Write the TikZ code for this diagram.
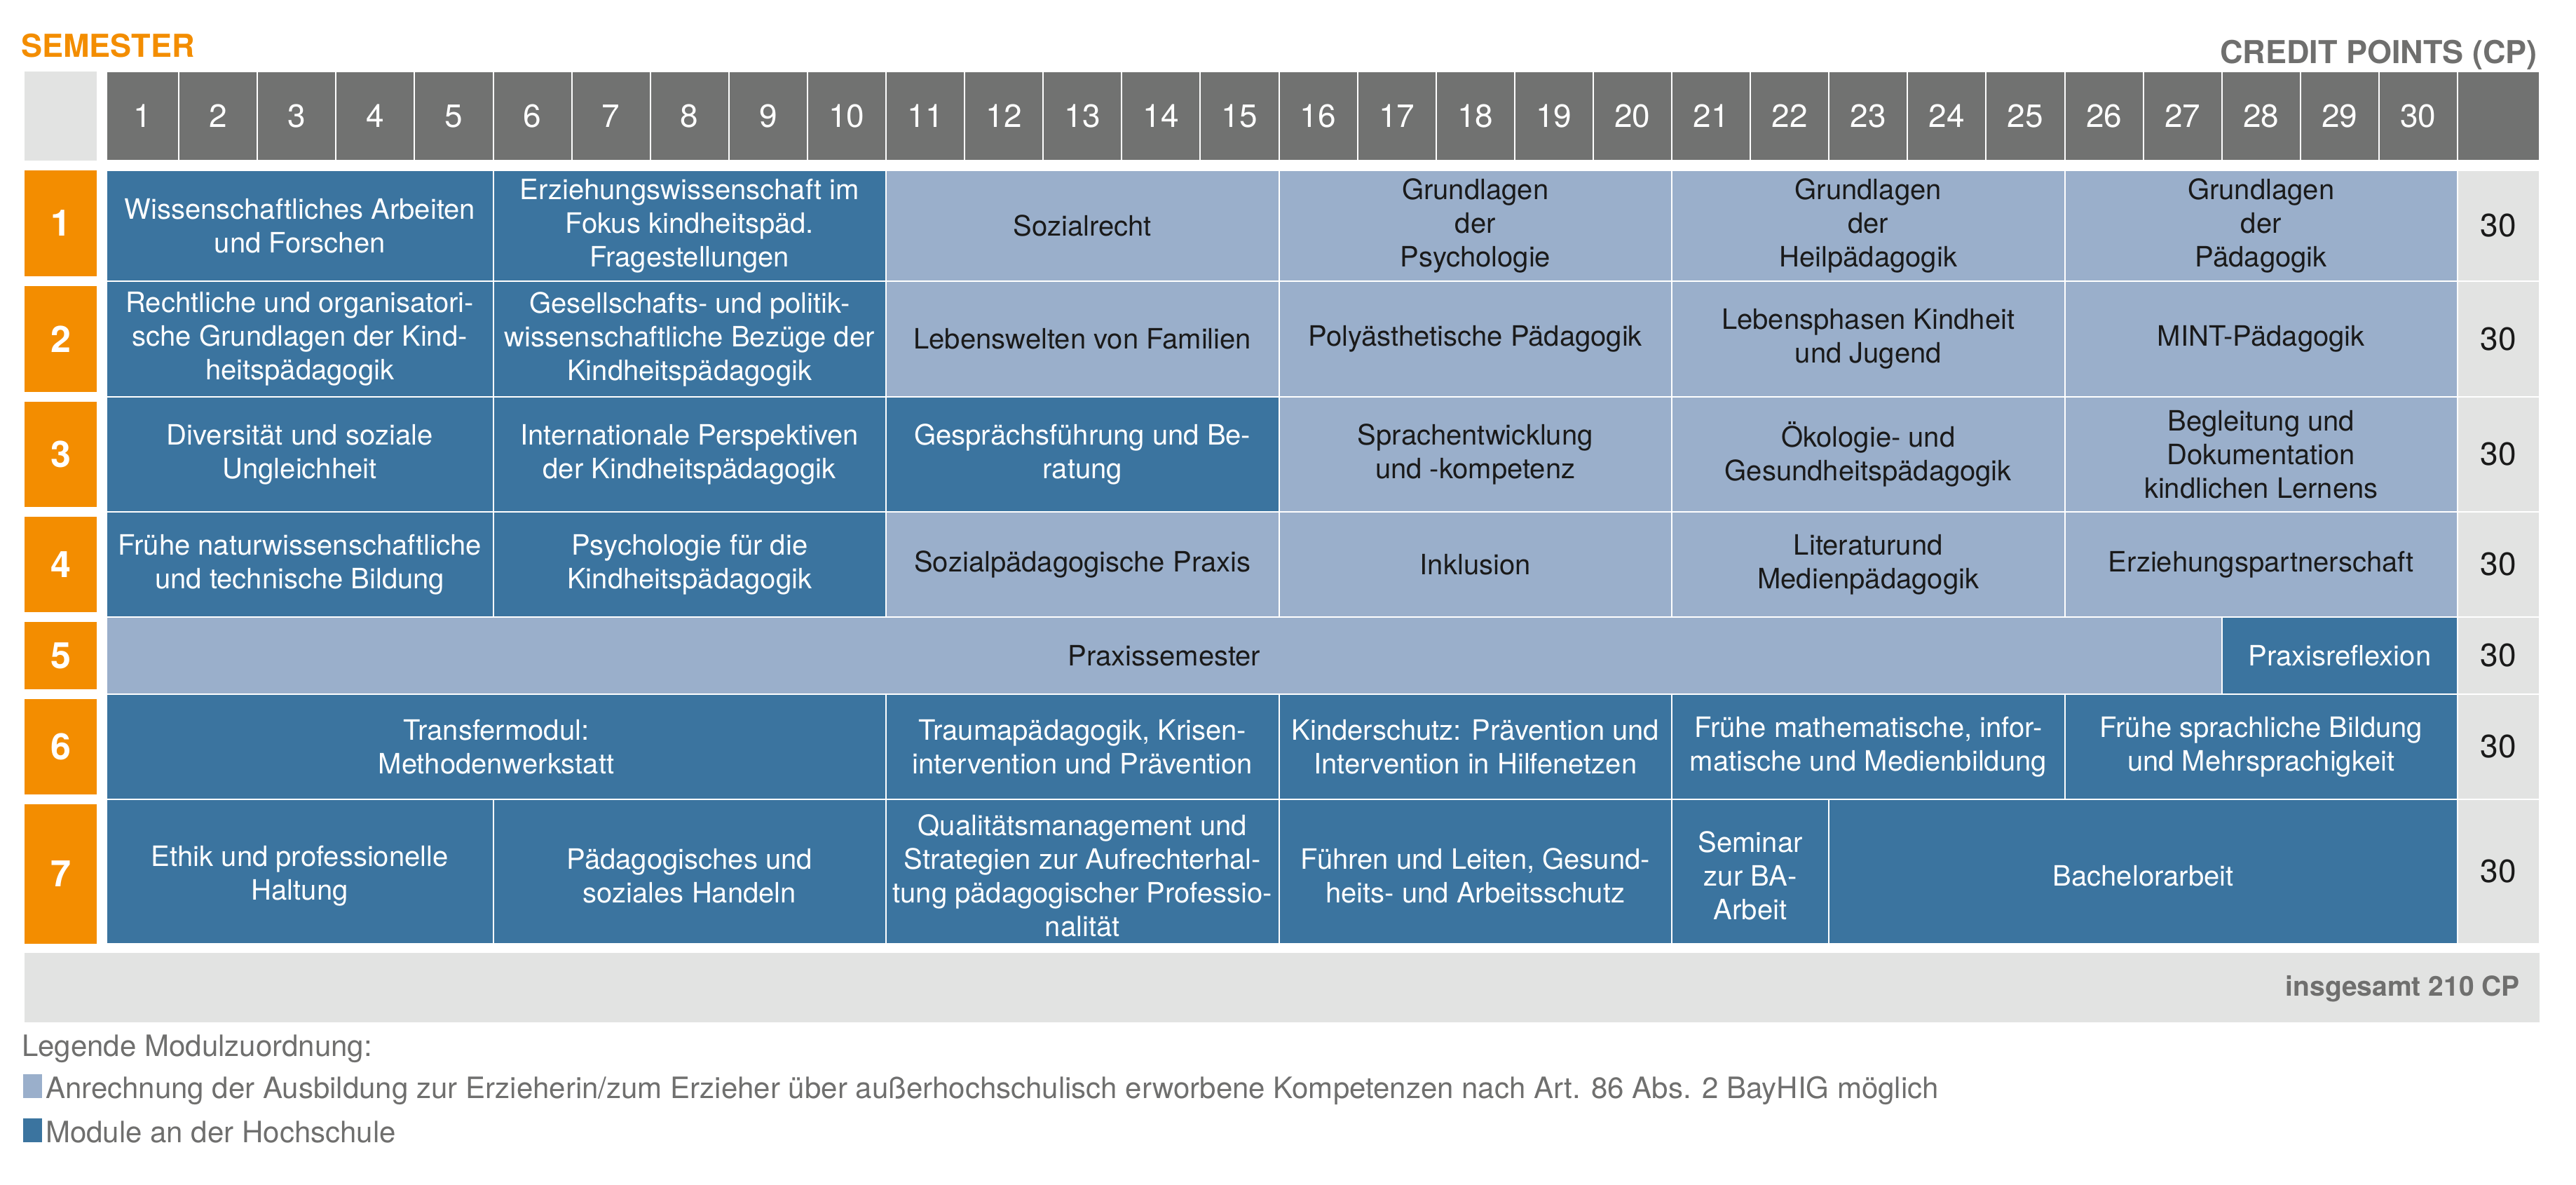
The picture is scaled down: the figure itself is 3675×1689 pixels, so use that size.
\documentclass[tikz,border=0pt]{standalone}
\usepackage{fontspec}
\setmainfont{TeX Gyre Heros}
\definecolor{cOrange}{RGB}{243,141,0}
\definecolor{cDark}{RGB}{59,116,159}
\definecolor{cLight}{RGB}{154,175,203}
\definecolor{cHead}{RGB}{113,114,113}
\definecolor{cPale}{RGB}{226,227,226}
\definecolor{cInk}{RGB}{26,26,26}
\definecolor{cGrayText}{RGB}{111,111,110}
\newcommand\cellfont{\fontsize{40}{48}\selectfont}
\newcommand\numfont{\fontsize{46}{52}\selectfont}
\newcommand\tsh{0}
\newcommand\mcell[7]{%
  \pgfmathsetmacro\xa{ifthenelse(#2==1,152,143+112.1*(#2-1))}%
  \pgfmathsetmacro\xe{143+112.1*#3}%
  \pgfmathsetmacro\cw{\xe-\xa}%
  \pgfmathsetmacro\ch{#5-#4}%
  \node[#6, minimum width=\cw pt, minimum height=\ch pt] (#1) at ({(\xa+\xe)/2},{(#4+#5)/2}) {};%
  \node[#6text] (#1t) at ({(\xa+\xe)/2},{(#4+#5)/2+\tsh}) {#7};%
}
\newcommand\semrow[6]{% name, number, orange top, orange bottom, row top, row bottom
  \pgfmathsetmacro\oh{#4-#3}%
  \pgfmathsetmacro\rh{#6-#5}%
  \node[sembox, minimum height=\oh pt] (sem#1) at (86.5,{(#3+#4)/2}) {#2};%
  \node[cpbox, minimum height=\rh pt] (cp#1) at (3564.5,{(#5+#6)/2}) {30};%
}
\begin{document}
\begin{tikzpicture}[x=1pt,y=-1pt,
  cellbase/.style={rectangle, draw=white, line width=2pt, inner sep=0pt},
  dk/.style={cellbase, fill=cDark},
  lt/.style={cellbase, fill=cLight},
  dktext/.style={inner sep=0pt, align=center, font=\cellfont, text=white},
  lttext/.style={inner sep=0pt, align=center, font=\cellfont, text=cInk},
  hdr/.style={rectangle, fill=cHead, draw=white, line width=2pt, inner sep=0pt, text=white, font=\numfont},
  sembox/.style={rectangle, fill=cOrange, inner sep=0pt, minimum width=103pt, text=white, font=\fontsize{52}{56}\selectfont\bfseries},
  cpbox/.style={rectangle, fill=cPale, draw=white, line width=2pt, inner sep=0pt, minimum width=117pt, text=cInk, font=\numfont},
  legtext/.style={inner sep=0pt, anchor=base west, text=cGrayText, font=\fontsize{42}{50}\selectfont},
  legkey/.style={rectangle, inner sep=0pt, anchor=north west, minimum width=27pt, minimum height=34pt}
]
\useasboundingbox (0,0) rectangle (3675,1689);

% titles
\node[inner sep=0pt, anchor=base west, text=cOrange, font=\fontsize{45}{50}\selectfont\bfseries] (semtitle) at (30,81) {SEMESTER};
\node[inner sep=0pt, anchor=base east, text=cGrayText, font=\fontsize{45}{50}\selectfont\bfseries] (cptitle) at (3620,90) {CREDIT POINTS (CP)};

% header row
\node[rectangle, fill=cPale, inner sep=0pt, minimum width=102.5pt, minimum height=127pt] (hcorner) at (86.25,165.5) {};
\foreach \k in {1,...,30}{
  \pgfmathsetmacro\xa{ifthenelse(\k==1,152,143+112.1*(\k-1))}
  \pgfmathsetmacro\xe{143+112.1*\k}
  \pgfmathsetmacro\cw{\xe-\xa}
  \node[hdr, minimum width=\cw pt, minimum height=127pt] (h\k) at ({(\xa+\xe)/2},165.5) {\k};
}
\node[hdr, minimum width=117pt, minimum height=127pt] (hcp) at (3564.5,165.5) {};

% row 1
\mcell{r1a}{1}{5}{243}{401}{dk}{Wissenschaftliches Arbeiten\\und Forschen}
\mcell{r1b}{6}{10}{243}{401}{dk}{Erziehungswissenschaft im\\Fokus kindheitspäd.\\Fragestellungen}
\mcell{r1c}{11}{15}{243}{401}{lt}{Sozialrecht}
\mcell{r1d}{16}{20}{243}{401}{lt}{Grundlagen\\der\\Psychologie}
\mcell{r1e}{21}{25}{243}{401}{lt}{Grundlagen\\der\\Heilpädagogik}
\mcell{r1f}{26}{30}{243}{401}{lt}{Grundlagen\\der\\Pädagogik}
% row 2
\mcell{r2a}{1}{5}{401}{566}{dk}{Rechtliche und organisatori-\\sche Grundlagen der Kind-\\heitspädagogik}
\mcell{r2b}{6}{10}{401}{566}{dk}{Gesellschafts- und politik-\\wissenschaftliche Bezüge der\\Kindheitspädagogik}
\mcell{r2c}{11}{15}{401}{566}{lt}{Lebenswelten von Familien}
\mcell{r2d}{16}{20}{401}{566}{lt}{Polyästhetische Pädagogik}
\mcell{r2e}{21}{25}{401}{566}{lt}{Lebensphasen Kindheit\\und Jugend}
\mcell{r2f}{26}{30}{401}{566}{lt}{MINT-Pädagogik}
% row 3
\mcell{r3a}{1}{5}{566}{730}{dk}{Diversität und soziale\\Ungleichheit}
\mcell{r3b}{6}{10}{566}{730}{dk}{Internationale Perspektiven\\der Kindheitspädagogik}
\mcell{r3c}{11}{15}{566}{730}{dk}{Gesprächsführung und Be-\\ratung}
\mcell{r3d}{16}{20}{566}{730}{lt}{Sprachentwicklung\\und -kompetenz}
\mcell{r3e}{21}{25}{566}{730}{lt}{Ökologie- und\\Gesundheitspädagogik}
\mcell{r3f}{26}{30}{566}{730}{lt}{Begleitung und\\Dokumentation\\kindlichen Lernens}
% row 4
\mcell{r4a}{1}{5}{730}{880}{dk}{Frühe naturwissenschaftliche\\und technische Bildung}
\mcell{r4b}{6}{10}{730}{880}{dk}{Psychologie für die\\Kindheitspädagogik}
\mcell{r4c}{11}{15}{730}{880}{lt}{Sozialpädagogische Praxis}
\mcell{r4d}{16}{20}{730}{880}{lt}{Inklusion}
\mcell{r4e}{21}{25}{730}{880}{lt}{Literaturund\\Medienpädagogik}
\mcell{r4f}{26}{30}{730}{880}{lt}{Erziehungspartnerschaft}
% row 5
\mcell{r5a}{1}{27}{880}{990}{lt}{Praxissemester}
\mcell{r5b}{28}{30}{880}{990}{dk}{Praxisreflexion}
% row 6
\mcell{r6a}{1}{10}{990}{1140}{dk}{Transfermodul:\\Methodenwerkstatt}
\mcell{r6b}{11}{15}{990}{1140}{dk}{Traumapädagogik, Krisen-\\intervention und Prävention}
\mcell{r6c}{16}{20}{990}{1140}{dk}{Kinderschutz: Prävention und\\Intervention in Hilfenetzen}
\mcell{r6d}{21}{25}{990}{1140}{dk}{Frühe mathematische, infor-\\matische und Medienbildung}
\mcell{r6e}{26}{30}{990}{1140}{dk}{Frühe sprachliche Bildung\\und Mehrsprachigkeit}
% row 7
\renewcommand\tsh{6}
\mcell{r7a}{1}{5}{1140}{1346}{dk}{Ethik und professionelle\\Haltung}
\mcell{r7b}{6}{10}{1140}{1346}{dk}{Pädagogisches und\\soziales Handeln}
\mcell{r7c}{11}{15}{1140}{1346}{dk}{Qualitätsmanagement und\\Strategien zur Aufrechterhal-\\tung pädagogischer Professio-\\nalität}
\mcell{r7d}{16}{20}{1140}{1346}{dk}{Führen und Leiten, Gesund-\\heits- und Arbeitsschutz}
\mcell{r7e}{21}{22}{1140}{1346}{dk}{Seminar\\zur BA-\\Arbeit}
\mcell{r7f}{23}{30}{1140}{1346}{dk}{Bachelorarbeit}

% semester numbers and credit points
\semrow{1}{1}{243}{394}{243}{401}
\semrow{2}{2}{408}{559}{401}{566}
\semrow{3}{3}{573}{723}{566}{730}
\semrow{4}{4}{737}{873}{730}{880}
\semrow{5}{5}{887}{983}{880}{990}
\semrow{6}{6}{997}{1133}{990}{1140}
\semrow{7}{7}{1147}{1346}{1140}{1346}

% total bar
\node[rectangle, fill=cPale, inner sep=0pt, minimum width=3588pt, minimum height=99pt] (total) at (1829,1408.5) {};
\node[inner sep=0pt, anchor=base east, text=cGrayText, font=\fontsize{39}{44}\selectfont\bfseries] (totaltext) at (3595,1420) {insgesamt 210 CP};

% legend
\node[legtext] (legtitle) at (31,1506) {Legende Modulzuordnung:};
\node[legkey, fill=cLight] (key1) at (33,1532) {};
\node[legtext] (leg1) at (65,1566) {Anrechnung der Ausbildung zur Erzieherin/zum Erzieher über außerhochschulisch erworbene Kompetenzen nach Art. 86 Abs. 2 BayHIG möglich};
\node[legkey, fill=cDark] (key2) at (33,1595) {};
\node[legtext] (leg2) at (65,1629) {Module an der Hochschule};
\end{tikzpicture}
\end{document}
